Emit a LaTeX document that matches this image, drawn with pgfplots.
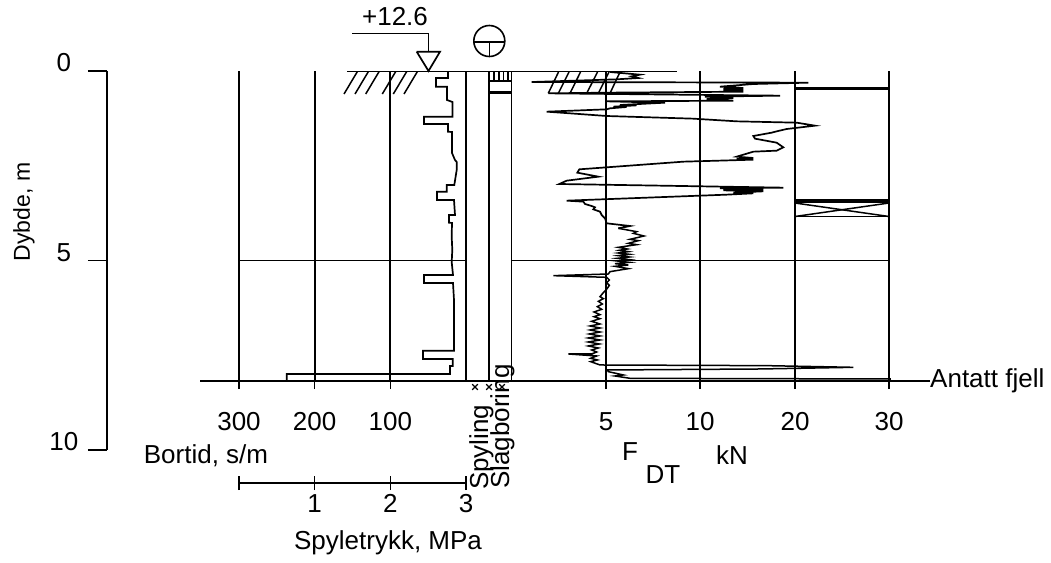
\documentclass[border=0pt]{standalone}
\usepackage{pgfplots}
\usepackage{pgfplotstable}
\usepackage{fontspec}
\setmainfont{Liberation Sans}
\pgfplotsset{compat=1.18}
\newcommand\fa{\fontsize{26}{27}\selectfont}
\newcommand\fb{\fontsize{23}{25}\selectfont}
% Bortid curve, read in picture pixels (px, py)
\pgfplotstableread{
px py
448 71.5
448 78
436 78
436 86.7
447 86.7
447 100
452.5 102
452.5 116.7
424 116.7
424 124
448 124
448 131.7
452 132
452 153
455 160
456.7 162
456.7 170
454.3 185
446.7 185
446.7 191.7
437 191.7
437 200
454 200
455 215
449 215
449 222.7
452 223
451.7 236.7
452.3 250
451.7 262
453 275
424 275
424 283
453 283
454 300
454 350.7
423 350.7
423 359
452.7 359
452.7 366
450 366
450 374
286.7 374
286.7 381.3
}\bortid
% F_DT upper part, zoom coordinates (x=520+zx/3, y=60+zy/3)
\pgfplotstableread{
zx zy
270 36
360 44
335 49
355 54
290 58
35 66
865 68
700 72
600 80
670 84
610 87
670 90
610 92
670 95
260 98
85 100
780 107
555 110
640 114
560 117
640 122
260 124
435 128
300 135
350 136
280 140
320 141
270 145
260 148
80 155
150 160
260 168
520 176
650 184
830 188
885 197
800 207
770 214
755 218
700 228
705 236
770 248
790 262
770 272
700 275
650 290
700 294
650 297
700 299
490 305
260 322
178 328
172 338
235 350
140 362
118 372
790 383
600 385
730 388
610 391
730 394
640 398
700 400
620 404
140 422
190 425
195 432
215 438
225 442
220 448
240 455
245 465
255 475
260 490
330 498
295 505
}\fupper
% F_DT lower part, zoom coordinates (x=520+zx/3, y=200+zy/3)
\pgfplotstableread{
zx zy
295 85
350 95
340 100
372 108
330 118
355 122
325 130
350 134
295 142
322 147
298 151
325 155
295 159
328 163
295 167
328 171
292 175
328 179
292 183
328 187
285 191
325 195
285 199
325 206
270 215
265 222
100 227
260 232
268 240
260 248
268 256
262 265
250 278
240 290
250 296
235 304
247 312
232 320
245 328
222 336
240 344
222 350
240 356
215 364
240 372
210 378
240 384
210 390
240 396
208 402
240 408
205 414
240 420
205 426
238 432
205 438
235 444
215 450
230 456
215 462
145 462
230 468
212 475
232 480
212 485
240 495
740 497
1000 502
720 507
262 510
265 515
310 525
285 528
330 535
1110 537
1110 541
}\flower
\pgfplotsset{ov/.style={scale only axis,anchor=south west,clip=false,
  tick style={black,line width=1.5pt},
  /pgf/number format/assume math mode=true,tick label style={font=\fa}},
  noarrow/.style={axis line style={-,line width=1.5pt},
  every outer x axis line/.append style={-},every outer y axis line/.append style={-},
  every inner x axis line/.append style={-},every inner y axis line/.append style={-}}}
\begin{document}
\begin{tikzpicture}[x=1pt,y=1pt]
\path (0,0) rectangle (1051,562);
% depth axis
\begin{axis}[ov,at={(107pt,112pt)},width=783pt,height=379pt,
  axis y line=left,axis x line=none,xmin=0,xmax=1,noarrow,
  ymin=0,ymax=10,y dir=reverse,ytick={0,5,10},
  major tick length=19pt,tick align=outside,
  yticklabel style={text width=36pt,align=center,inner sep=0pt,anchor=east,xshift=-6pt,yshift=8pt},
  ylabel={Dybde, m},
  every axis y label/.style={at={(axis description cs:-0.106,0.628)},rotate=90,anchor=center,font=\fb}]
\end{axis}
% Bortid axis
\begin{axis}[ov,at={(239pt,181pt)},width=227pt,height=310pt,
  axis x line=bottom,axis y line=none,x dir=reverse,noarrow,
  xmin=0,xmax=300,ymin=0,ymax=8.18,y dir=reverse,
  xtick={100,200,300},major tick length=8pt,tick align=outside,
  xmajorgrids,grid style={black,line width=1.7pt},
  xticklabel style={yshift=-20pt}]
\addplot[black,line width=1.7pt] table[x expr=(466-\thisrow{px})/0.7567,y expr=(\thisrow{py}-71)/37.9]{\bortid};
\addplot[black,line width=1.6pt] coordinates {(300,5)(0,5)};
\end{axis}
% F_DT axis
\begin{axis}[ov,at={(511pt,181pt)},width=378pt,height=310pt,
  axis x line=bottom,axis y line=none,noarrow,
  xmin=511,xmax=889,ymin=0,ymax=8.18,y dir=reverse,
  xtick={606,700,795,889},xticklabels={5,10,20,30},
  major tick length=8pt,tick align=outside,
  xmajorgrids,grid style={black,line width=1.7pt},
  xticklabel style={yshift=-20pt}]
\addplot[black,line width=1.6pt] coordinates {(511,5)(889,5)};
\addplot[black,line width=1.7pt] table[x expr=520+\thisrow{zx}/3,y expr=(60+\thisrow{zy}/3-71)/37.9]{\fupper};
\addplot[black,line width=1.5pt] table[x expr=520+\thisrow{zx}/3,y expr=(200+\thisrow{zy}/3-71)/37.9]{\flower};
\end{axis}
% Spyletrykk axis
\begin{axis}[ov,at={(239pt,79pt)},width=227pt,height=10pt,
  axis x line=bottom,axis y line=none,noarrow,xmin=0,xmax=3,ymin=0,ymax=1,
  xtick={0,1,2,3},xticklabels={,1,2,3},
  tick style={black,line width=1.2pt},axis line style={line width=1.2pt},
  major tick length=14pt,tick align=center,xticklabel style={yshift=-1pt}]
\end{axis}
% annotations in picture pixels
\begin{axis}[at={(0pt,0pt)},anchor=south west,scale only axis,width=1051pt,height=562pt,
  hide axis,clip=false,xmin=0,xmax=1051,ymin=0,ymax=562,y dir=reverse]
\addplot[black,line width=1.6pt] coordinates {(347,71.5)(677,71.5)};
\addplot[black,line width=1.6pt] coordinates {(200,381)(930,381)};
\addplot[black,line width=1.5pt] coordinates {(466,71)(466,381)};
\addplot[black,line width=2.2pt] coordinates {(489,71)(489,381)};
\addplot[black,line width=1.5pt] coordinates {(511.5,71)(511.5,381)};
% ground hatches
\addplot[black,line width=1.5pt] coordinates {(344,94)(357.3,71.7)};
\addplot[black,line width=1.5pt] coordinates {(355,94)(368.3,71.7)};
\addplot[black,line width=1.5pt] coordinates {(365.7,94)(379,71.7)};
\addplot[black,line width=1.5pt] coordinates {(382.3,94)(395.6,71.7)};
\addplot[black,line width=1.5pt] coordinates {(393.3,94)(406.6,71.7)};
\addplot[black,line width=1.5pt] coordinates {(404,94)(417.3,71.7)};
\addplot[black,line width=1.5pt] coordinates {(548.3,93.3)(558.5,72)};
\addplot[black,line width=1.5pt] coordinates {(558.3,93.3)(569,72)};
\addplot[black,line width=1.5pt] coordinates {(570,93.3)(580.5,72)};
\addplot[black,line width=1.5pt] coordinates {(586.7,93.3)(597.5,72)};
\addplot[black,line width=1.5pt] coordinates {(598.3,93.3)(609,72)};
\addplot[black,line width=1.5pt] coordinates {(610,93.3)(620,72)};
% level marker
\addplot[black,line width=1.5pt] coordinates {(352,33.7)(428.5,33.7)(428.5,51.7)};
\addplot[black,line width=1.7pt] coordinates {(416.7,51.7)(440,51.7)(428.5,71)(416.7,51.7)};
\draw[black,line width=1.6pt] (axis cs:489.3,41) circle [radius=15.5pt];
\addplot[black,line width=1.6pt] coordinates {(474,41.7)(505,41.7)};
\addplot[black,line width=1.6pt] coordinates {(489.3,41.7)(489.3,56)};
% strata column
\addplot[black,line width=1.8pt] coordinates {(494,72)(494,80.5)};
\addplot[black,line width=1.8pt] coordinates {(499,72)(499,80.5)};
\addplot[black,line width=1.8pt] coordinates {(503.5,72)(503.5,80.5)};
\addplot[black,line width=1.8pt] coordinates {(508,72)(508,80.5)};
\addplot[black,line width=1.5pt] coordinates {(489,81)(511,81)};
\addplot[black,line width=3.5pt] coordinates {(489,92.5)(511,92.5)};
% resistance column
\addplot[black,line width=3.5pt] coordinates {(795,88.5)(889,88.5)};
\addplot[black,line width=4.5pt] coordinates {(795,201)(889,201)};
\addplot[black,line width=1.5pt] coordinates {(795,203)(889,216.5)};
\addplot[black,line width=1.5pt] coordinates {(795,216.5)(889,203)};
\addplot[black,line width=1.6pt] coordinates {(795,216.5)(889,216.5)};
% crosses
\addplot[black,only marks,mark=x,mark size=4pt,mark options={line width=1.2pt}] coordinates {(475,387)(489,387)(502,387)};
% texts
\node[font=\fa,anchor=center] at (axis cs:395,17) {+12.6};
\node[font=\fa,anchor=center] at (axis cs:206,456) {Bortid, s/m};
\node[font=\fa,anchor=center] at (axis cs:388,543) {Spyletrykk, MPa};
\node[font=\fa,anchor=west,inner sep=0pt] at (axis cs:930,381) {Antatt fjell};
\node[font=\fa,rotate=90,anchor=base west,inner sep=0pt] at (axis cs:488,490) {Spyling};
\node[font=\fa,rotate=90,anchor=base west,inner sep=0pt] at (axis cs:509,489) {Slagboring};
\node[font=\fa,anchor=center] at (axis cs:630,452) {F};
\node[font=\fa,anchor=center] at (axis cs:663,475) {DT};
\node[font=\fa,anchor=center] at (axis cs:732,455) {kN};
\end{axis}
\end{tikzpicture}
\end{document}
